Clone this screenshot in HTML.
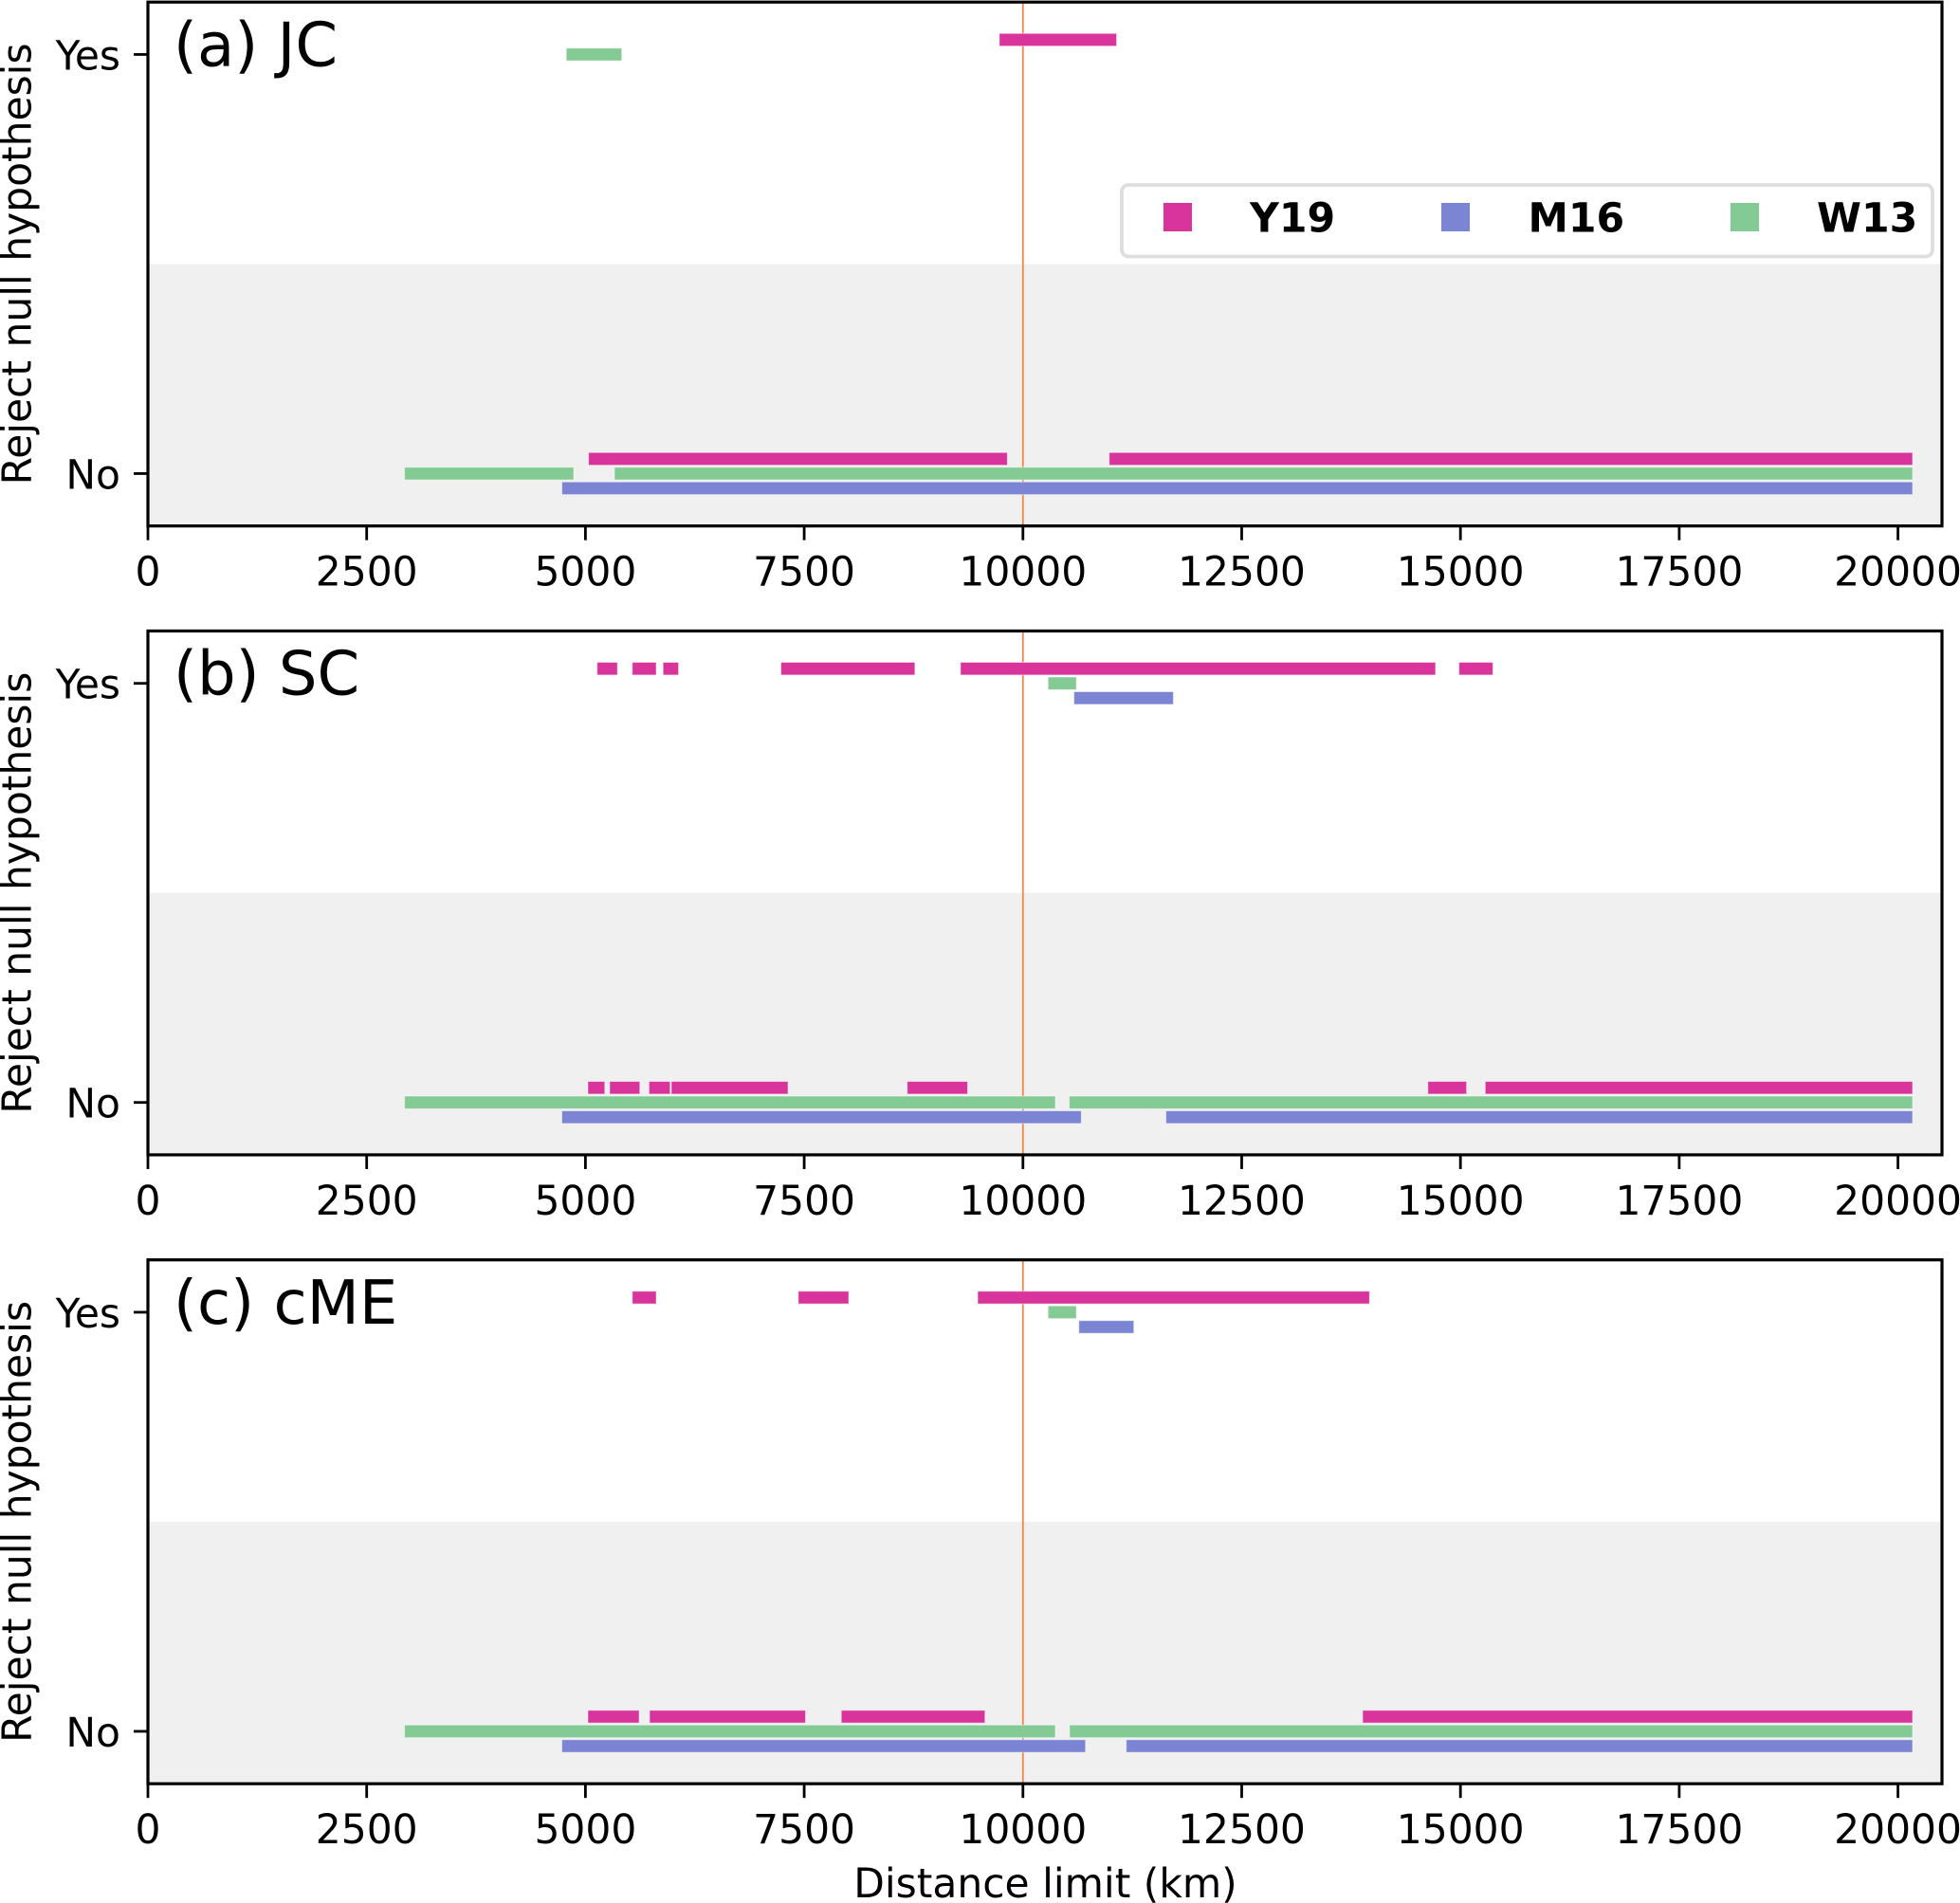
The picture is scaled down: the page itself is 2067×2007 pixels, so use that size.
<!DOCTYPE html>
<html lang="en">
<head>
<meta charset="utf-8">
<title>Reject null hypothesis vs distance limit</title>
<style>
html,body{margin:0;padding:0;background:#fff;}
svg{display:block;font-family:"DejaVu Sans","Liberation Sans",sans-serif;}
</style>
</head>
<body>
<svg id="chart" xmlns="http://www.w3.org/2000/svg" width="2067" height="2007" viewBox="0 0 2067 2007"></svg>
<script>
// Chart data: [start, end] distance-limit intervals in km
const panelNames = ['(a) JC', '(b) SC', '(c) cME'];
const xTicks = [0, 2500, 5000, 7500, 10000, 12500, 15000, 17500, 20000];
const yTickLabels = ['No', 'Yes'];
const seriesNames = ['Y19', 'M16', 'W13'];
const referenceDistance = 10000;

const jcY19Yes = [[9730, 11070]];
const jcY19No = [[5035, 9822], [10985, 20167]];
const jcM16Yes = [];
const jcM16No = [[4731, 20167]];
const jcW13Yes = [[4781, 5415]];
const jcW13No = [[2932, 4866], [5331, 20167]];

const scY19Yes = [[5133, 5366], [5535, 5809], [5887, 6064], [7234, 8765], [9286, 14715], [14983, 15371]];
const scY19No = [[5028, 5221], [5277, 5622], [5726, 5968], [5982, 7315], [8677, 9368], [14627, 15070], [15283, 20167]];
const scM16Yes = [[10583, 11719]];
const scM16No = [[4730, 10667], [11634, 20167]];
const scW13Yes = [[10287, 10611]];
const scW13No = [[2932, 10371], [10529, 20167]];

const cmeY19Yes = [[5535, 5809], [7432, 8009], [9483, 13961]];
const cmeY19No = [[5028, 5614], [5733, 7515], [7924, 9566], [13882, 20167]];
const cmeM16Yes = [[10639, 11267]];
const cmeM16No = [[4730, 10715], [11180, 20167]];
const cmeW13Yes = [[10287, 10611]];
const cmeW13No = [[2932, 10370], [10532, 20167]];

const panelSeries = [
  {Y19: [jcY19No, jcY19Yes], M16: [jcM16No, jcM16Yes], W13: [jcW13No, jcW13Yes]},
  {Y19: [scY19No, scY19Yes], M16: [scM16No, scM16Yes], W13: [scW13No, scW13Yes]},
  {Y19: [cmeY19No, cmeY19Yes], M16: [cmeM16No, cmeM16Yes], W13: [cmeW13No, cmeW13Yes]}
];

// Layout and style
const colors = {Y19: '#d8349b', M16: '#7c84d4', W13: '#84ca94'};
const rowOffset = {Y19: -15.5, W13: 0, M16: 15.5};
const plotLeft = 156, plotRight = 2048, plotTop = 2.2, plotHeight = 552.5, panelStep = 663.25;
const xMax = 20503, yMin = -0.125, yMax = 1.125;
const barHeight = 13.4;
const labelSize = 42.4;
const svg = document.getElementById('chart');
const NS = 'http://www.w3.org/2000/svg';

function xScale(v) {
  return plotLeft + (v / xMax) * (plotRight - plotLeft);
}
function yScale(v, panel) {
  return plotTop + panel * panelStep + (yMax - v) / (yMax - yMin) * plotHeight;
}
function mk(tag, attrs, parent, text) {
  const el = document.createElementNS(NS, tag);
  for (const k in attrs) el.setAttribute(k, attrs[k]);
  if (text !== undefined) el.textContent = text;
  (parent || svg).appendChild(el);
  return el;
}
function slug(s) {
  return s.toLowerCase().replace(/[^a-z0-9]+/g, '-').replace(/^-|-$/g, '');
}

panelNames.forEach(function (title, p) {
  const key = slug(title);
  const top = yScale(yMax, p), bottom = yScale(yMin, p), mid = yScale(0.5, p);
  const g = mk('g', {});
  
  

  const shade = mk('rect', {x: plotLeft, y: mid, width: plotRight - plotLeft, height: bottom - mid, fill: '#f0f0f0'}, g);
  
  

  const ref = mk('line', {x1: xScale(referenceDistance), x2: xScale(referenceDistance), y1: top, y2: bottom, stroke: '#f5844a', 'stroke-width': 1.8}, g);
  
  

  seriesNames.forEach(function (s) {
    panelSeries[p][s].forEach(function (intervals, state) {
      intervals.forEach(function (iv) {
        const x1 = xScale(iv[0]), x2 = xScale(iv[1]);
        const yc = yScale(state, p) + rowOffset[s];
        const bar = mk('rect', {x: x1, y: yc - barHeight / 2, width: x2 - x1, height: barHeight, fill: colors[s], stroke: '#ffffff', 'stroke-opacity': 0.5, 'stroke-width': 1}, g);
        
        
      });
    });
  });

  const frame = mk('rect', {x: plotLeft, y: top, width: plotRight - plotLeft, height: bottom - top, fill: 'none', stroke: '#000', 'stroke-width': 3.2}, g);
  
  

  xTicks.forEach(function (t) {
    const tx = xScale(t);
    const tick = mk('line', {x1: tx, x2: tx, y1: bottom, y2: bottom + 15, stroke: '#000', 'stroke-width': 2.8}, g);
    
    
    const label = mk('text', {x: tx, y: bottom + 63, 'text-anchor': 'middle', 'font-size': labelSize, fill: '#000'}, g, String(t));
    
    
  });

  yTickLabels.forEach(function (lab, v) {
    const ty = yScale(v, p);
    const tick = mk('line', {x1: plotLeft - 15, x2: plotLeft, y1: ty, y2: ty, stroke: '#000', 'stroke-width': 2.8}, g);
    
    
    const label = mk('text', {x: 127, y: ty + 15.8, 'text-anchor': 'end', 'font-size': labelSize, fill: '#000'}, g, lab);
    
    
  });

  const yTitle = mk('text', {transform: 'translate(32.5,' + mid + ') rotate(-90)', 'text-anchor': 'middle', 'font-size': labelSize, fill: '#000'}, g, 'Reject null hypothesis');
  
  

  const pTitle = mk('text', {x: 183, y: top + 67.2, 'font-size': 64, fill: '#000'}, g, title);
  
  
});

// X axis title on the bottom panel
const xTitle = mk('text', {x: 1102.5, y: 2001, 'text-anchor': 'middle', 'font-size': labelSize, fill: '#000'}, svg, 'Distance limit (km)');



// Legend in the top panel
const legend = mk('g', {});


const legendBox = mk('rect', {x: 1183, y: 195, width: 855, height: 75.5, rx: 7, ry: 7, fill: '#fff', stroke: '#dedede', 'stroke-width': 3.8}, legend);


const legendSwatchX = [1227, 1520, 1825];
const legendTextX = [1318, 1611.5, 1916];
seriesNames.forEach(function (s, i) {
  const sw = mk('rect', {x: legendSwatchX[i], y: 214, width: 30, height: 30, fill: colors[s]}, legend);
  
  
  const tx = mk('text', {x: legendTextX[i], y: 244.5, 'font-size': 42.6, 'font-weight': 'bold', fill: '#000'}, legend, s);
  
  
});
</script>
</body>
</html>
